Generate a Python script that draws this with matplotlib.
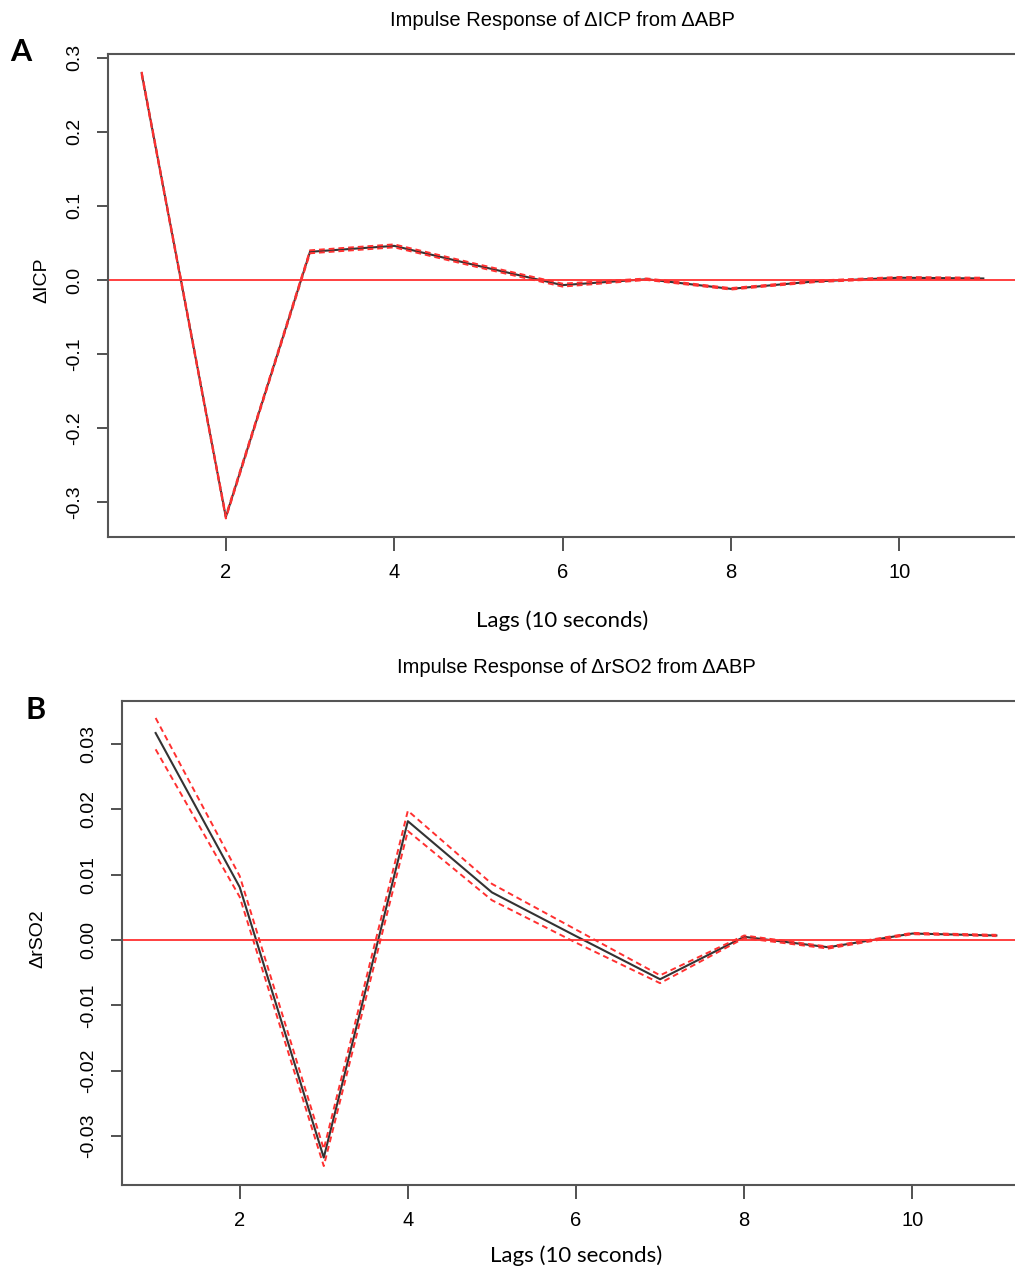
import matplotlib.pyplot as plt

# impulse response values
lags = [1, 2, 3, 4, 5, 6, 7, 8, 9, 10, 11]

icp = [0.279, -0.320, 0.038, 0.046, 0.019, -0.007, 0.001, -0.012, -0.002, 0.003, 0.002]
icp_upper = [0.281, -0.318, 0.040, 0.048, 0.021, -0.005, 0.002, -0.011, -0.001, 0.004, 0.003]
icp_lower = [0.277, -0.322, 0.036, 0.044, 0.017, -0.009, 0.000, -0.013, -0.003, 0.002, 0.001]

rso2 = [0.0317, 0.0081, -0.0333, 0.0182, 0.0073, 0.0006, -0.0060, 0.0005, -0.0011, 0.0010, 0.0007]
rso2_upper = [0.0340, 0.0098, -0.0320, 0.0198, 0.0086, 0.0016, -0.0054, 0.0007, -0.0010, 0.0011, 0.0008]
rso2_lower = [0.0292, 0.0066, -0.0346, 0.0167, 0.0061, -0.0004, -0.0066, 0.0003, -0.0013, 0.0009, 0.0006]

xticks = [2, 4, 6, 8, 10]
icp_yticks = [-0.3, -0.2, -0.1, 0.0, 0.1, 0.2, 0.3]
rso2_yticks = [-0.03, -0.02, -0.01, 0.00, 0.01, 0.02, 0.03]

W, H = 1015, 1267
fig = plt.figure(figsize=(W / 100, H / 100), dpi=100)

sans = ['Liberation Sans', 'DejaVu Sans']
narrow = ['Liberation Sans Narrow', 'Liberation Sans', 'DejaVu Sans']
cal = ['Lato', 'DejaVu Sans']


def panel(rect, y, up, lo, ylim, yticks, fmt, title, ylabel, ylab_xy, xlab_pad,
          letter, letter_xy):
    ax = fig.add_axes(rect)
    ax.plot(lags, y, color='#333333', lw=1.5)
    ax.plot(lags, up, color='#ff3030', lw=1.4, dashes=(3, 2))
    ax.plot(lags, lo, color='#ff3030', lw=1.4, dashes=(3, 2))
    ax.axhline(0, color='#ff3030', lw=1.3)
    ax.set_xlim(0.6, 11.4)
    ax.set_ylim(*ylim)
    ax.set_xticks(xticks)
    ax.set_xticklabels([str(t) for t in xticks], family=narrow, fontsize=14.5)
    ax.set_yticks(yticks)
    ax.set_yticklabels([fmt.format(t) for t in yticks], family=sans, fontsize=14,
                       rotation=90, va='center')
    ax.tick_params(axis='x', length=10, width=1.2, pad=9, color='#333333')
    ax.tick_params(axis='y', length=8, width=1.2, pad=10, color='#333333')
    for s in ax.spines.values():
        s.set_color('#555555')
        s.set_linewidth(1.5)
    ax.set_title(title, family=sans, fontsize=14.5, pad=20)
    ax.set_ylabel(ylabel, family=sans, fontsize=14)
    ax.yaxis.set_label_coords(*ylab_xy)
    ax.set_xlabel('Lags (10 seconds)', family=cal, fontsize=16, labelpad=xlab_pad)
    fig.text(letter_xy[0] / W, 1 - letter_xy[1] / H, letter, family=cal,
             fontweight='bold', fontsize=22, ha='center', va='center')
    return ax


panel([108 / W, 1 - 537 / H, 909 / W, 483 / H], icp, icp_upper, icp_lower,
      (-0.347, 0.305), icp_yticks, '{:.1f}',
      'Impulse Response of \u0394ICP from \u0394ABP', '\u0394ICP', (-0.063, 0.532), 20,
      'A', (21, 52))

panel([122 / W, 1 - 1185 / H, 908 / W, 484 / H], rso2, rso2_upper, rso2_lower,
      (-0.0375, 0.0366), rso2_yticks, '{:.2f}',
      'Impulse Response of \u0394rSO2 from \u0394ABP', '\u0394rSO2', (-0.083, 0.51), 11,
      'B', (36, 710))

fig.savefig('out.png', dpi=100)
